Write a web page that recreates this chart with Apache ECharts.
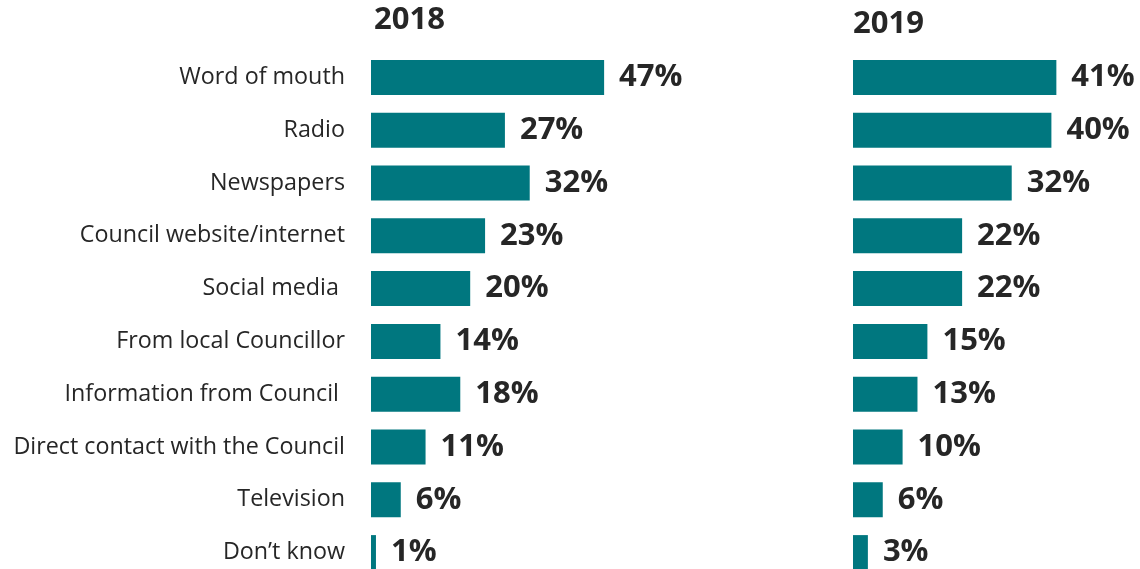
<!DOCTYPE html>
<html><head><meta charset="utf-8">
<script src="https://cdn.jsdelivr.net/npm/echarts@6/dist/echarts.min.js"></script>
<style>html,body{margin:0;padding:0;background:#fff}#c{width:1140px;height:569px}</style>
</head><body><div id="c"></div>
<script>
const categories = ["Word of mouth","Radio","Newspapers","Council website/internet","Social media ","From local Councillor","Information from Council ","Direct contact with the Council","Television","Don\u2019t know"];
const values2018 = [47,27,32,23,20,14,18,11,6,1];
const values2019 = [41,40,32,22,22,15,13,10,6,3];
const panelTitles = ["2018","2019"];

const chart = echarts.init(document.getElementById('c'));
const textColor = '#262626';
const barColor = '#00777F';
const font = 'Open Sans';
function yAxis(idx, show){
  return {type:'category', gridIndex:idx, data:categories, inverse:true,
    axisLine:{show:false}, axisTick:{show:false}, splitLine:{show:false},
    axisLabel:{show:show, margin:26, color:textColor, fontFamily:font, fontSize:23.3}};
}
function xAxis(idx){
  return {type:'value', gridIndex:idx, min:0, max:50, show:false};
}
function series(idx, data){
  return {type:'bar', xAxisIndex:idx, yAxisIndex:idx, data:data, barWidth:35,
    itemStyle:{color:barColor}, silent:true,
    label:{show:true, position:'right', distance:15, formatter:'{c}%', color:textColor,
      fontFamily:font, fontWeight:'bold', fontSize:31}};
}
chart.setOption({
  animation:false,
  grid:[{left:371, top:51, width:248, height:528, outerBoundsMode:'none', containLabel:false},
        {left:853, top:51, width:248, height:528, outerBoundsMode:'none', containLabel:false}],
  xAxis:[xAxis(0), xAxis(1)],
  yAxis:[yAxis(0,true), yAxis(1,false)],
  graphic:[
    {type:'text', left:374, top:5, style:{text:panelTitles[0], fill:textColor, font:'bold 31px "Open Sans"'}},
    {type:'text', left:853, top:9, style:{text:panelTitles[1], fill:textColor, font:'bold 31px "Open Sans"'}}
  ],
  series:[series(0, values2018), series(1, values2019)]
});
</script></body></html>
